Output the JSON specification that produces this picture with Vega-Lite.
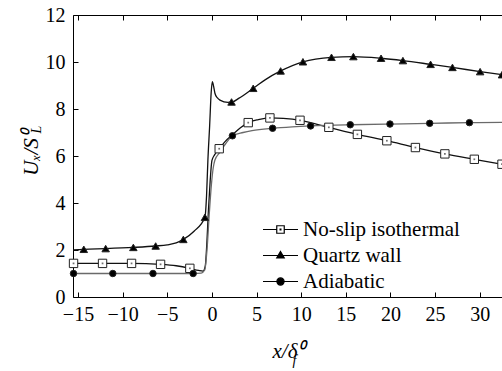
{
  "$schema": "https://vega.github.io/schema/vega-lite/v6.json",
  "width": 429,
  "height": 282,
  "autosize": {"type": "none"},
  "padding": {"left": 73, "top": 15, "right": 0, "bottom": 74},
  "background": "white",
  "config": {
    "view": {"stroke": null},
    "font": "Liberation Serif",
    "axis": {
      "grid": false,
      "domainColor": "black",
      "domainWidth": 1,
      "tickColor": "black",
      "tickWidth": 1,
      "labelColor": "black",
      "labelFont": "Liberation Serif",
      "labelFontSize": 20,
      "titleColor": "black",
      "titleFont": "Liberation Serif",
      "titleFontWeight": "normal",
      "titleFontStyle": "italic",
      "labelFlush": false,
      "labelOverlap": false
    },
    "legend": {
      "labelFont": "Liberation Serif",
      "labelLimit": 0
    }
  },
  "datasets": {
    "curves": [
      {"series": "No-slip isothermal", "x": -15.56, "y": 1.43},
      {"series": "No-slip isothermal", "x": -12.25, "y": 1.43},
      {"series": "No-slip isothermal", "x": -9.0, "y": 1.43},
      {"series": "No-slip isothermal", "x": -5.75, "y": 1.39},
      {"series": "No-slip isothermal", "x": -4.0, "y": 1.33},
      {"series": "No-slip isothermal", "x": -2.47, "y": 1.22},
      {"series": "No-slip isothermal", "x": -1.5, "y": 1.13},
      {"series": "No-slip isothermal", "x": -1.0, "y": 1.1},
      {"series": "No-slip isothermal", "x": -0.75, "y": 1.3},
      {"series": "No-slip isothermal", "x": -0.55, "y": 2.4},
      {"series": "No-slip isothermal", "x": -0.4, "y": 3.6},
      {"series": "No-slip isothermal", "x": -0.2, "y": 4.9},
      {"series": "No-slip isothermal", "x": 0.0, "y": 5.8},
      {"series": "No-slip isothermal", "x": 0.3, "y": 6.05},
      {"series": "No-slip isothermal", "x": 0.82, "y": 6.31},
      {"series": "No-slip isothermal", "x": 1.5, "y": 6.62},
      {"series": "No-slip isothermal", "x": 2.3, "y": 6.9},
      {"series": "No-slip isothermal", "x": 3.2, "y": 7.2},
      {"series": "No-slip isothermal", "x": 4.07, "y": 7.42},
      {"series": "No-slip isothermal", "x": 5.2, "y": 7.55},
      {"series": "No-slip isothermal", "x": 6.5, "y": 7.62},
      {"series": "No-slip isothermal", "x": 8.0, "y": 7.6},
      {"series": "No-slip isothermal", "x": 9.87, "y": 7.52},
      {"series": "No-slip isothermal", "x": 11.5, "y": 7.38},
      {"series": "No-slip isothermal", "x": 13.1, "y": 7.22},
      {"series": "No-slip isothermal", "x": 16.3, "y": 6.92},
      {"series": "No-slip isothermal", "x": 19.6, "y": 6.65},
      {"series": "No-slip isothermal", "x": 22.8, "y": 6.36},
      {"series": "No-slip isothermal", "x": 26.1, "y": 6.09},
      {"series": "No-slip isothermal", "x": 29.4, "y": 5.86},
      {"series": "No-slip isothermal", "x": 32.5, "y": 5.65},

      {"series": "Quartz wall", "x": -15.56, "y": 2.0},
      {"series": "Quartz wall", "x": -14.35, "y": 2.03},
      {"series": "Quartz wall", "x": -11.9, "y": 2.06},
      {"series": "Quartz wall", "x": -8.8, "y": 2.11},
      {"series": "Quartz wall", "x": -6.3, "y": 2.17},
      {"series": "Quartz wall", "x": -5.0, "y": 2.22},
      {"series": "Quartz wall", "x": -4.0, "y": 2.3},
      {"series": "Quartz wall", "x": -3.2, "y": 2.45},
      {"series": "Quartz wall", "x": -2.0, "y": 2.8},
      {"series": "Quartz wall", "x": -0.78, "y": 3.39},
      {"series": "Quartz wall", "x": -0.6, "y": 4.3},
      {"series": "Quartz wall", "x": -0.45, "y": 5.8},
      {"series": "Quartz wall", "x": -0.25, "y": 7.3},
      {"series": "Quartz wall", "x": -0.08, "y": 8.7},
      {"series": "Quartz wall", "x": 0.05, "y": 9.16},
      {"series": "Quartz wall", "x": 0.2, "y": 8.95},
      {"series": "Quartz wall", "x": 0.34, "y": 8.67},
      {"series": "Quartz wall", "x": 0.6, "y": 8.48},
      {"series": "Quartz wall", "x": 0.9, "y": 8.38},
      {"series": "Quartz wall", "x": 1.8, "y": 8.28},
      {"series": "Quartz wall", "x": 2.3, "y": 8.3},
      {"series": "Quartz wall", "x": 3.0, "y": 8.45},
      {"series": "Quartz wall", "x": 4.63, "y": 8.88},
      {"series": "Quartz wall", "x": 6.0, "y": 9.25},
      {"series": "Quartz wall", "x": 7.7, "y": 9.62},
      {"series": "Quartz wall", "x": 10.2, "y": 10.01},
      {"series": "Quartz wall", "x": 13.4, "y": 10.2},
      {"series": "Quartz wall", "x": 15.85, "y": 10.23},
      {"series": "Quartz wall", "x": 18.95, "y": 10.16},
      {"series": "Quartz wall", "x": 21.4, "y": 10.06},
      {"series": "Quartz wall", "x": 24.5, "y": 9.9},
      {"series": "Quartz wall", "x": 26.95, "y": 9.77},
      {"series": "Quartz wall", "x": 30.05, "y": 9.59},
      {"series": "Quartz wall", "x": 32.5, "y": 9.46},

      {"series": "Adiabatic", "x": -15.56, "y": 1.0},
      {"series": "Adiabatic", "x": -11.1, "y": 1.0},
      {"series": "Adiabatic", "x": -6.6, "y": 1.0},
      {"series": "Adiabatic", "x": -2.1, "y": 1.0},
      {"series": "Adiabatic", "x": -1.2, "y": 1.02},
      {"series": "Adiabatic", "x": -0.8, "y": 1.15},
      {"series": "Adiabatic", "x": -0.55, "y": 2.0},
      {"series": "Adiabatic", "x": -0.3, "y": 3.5},
      {"series": "Adiabatic", "x": -0.05, "y": 4.8},
      {"series": "Adiabatic", "x": 0.15, "y": 5.5},
      {"series": "Adiabatic", "x": 0.34, "y": 5.83},
      {"series": "Adiabatic", "x": 0.82, "y": 6.12},
      {"series": "Adiabatic", "x": 1.5, "y": 6.5},
      {"series": "Adiabatic", "x": 2.3, "y": 6.86},
      {"series": "Adiabatic", "x": 3.5, "y": 7.0},
      {"series": "Adiabatic", "x": 4.5, "y": 7.08},
      {"series": "Adiabatic", "x": 6.8, "y": 7.18},
      {"series": "Adiabatic", "x": 9.0, "y": 7.24},
      {"series": "Adiabatic", "x": 11.06, "y": 7.28},
      {"series": "Adiabatic", "x": 15.5, "y": 7.33},
      {"series": "Adiabatic", "x": 19.95, "y": 7.36},
      {"series": "Adiabatic", "x": 24.4, "y": 7.39},
      {"series": "Adiabatic", "x": 28.85, "y": 7.42},
      {"series": "Adiabatic", "x": 32.5, "y": 7.43}
    ],
    "markers": [
      {"series": "No-slip isothermal", "x": -15.5, "y": 1.43},
      {"series": "No-slip isothermal", "x": -12.25, "y": 1.43},
      {"series": "No-slip isothermal", "x": -9.0, "y": 1.43},
      {"series": "No-slip isothermal", "x": -5.75, "y": 1.39},
      {"series": "No-slip isothermal", "x": -2.47, "y": 1.22},
      {"series": "No-slip isothermal", "x": 0.82, "y": 6.31},
      {"series": "No-slip isothermal", "x": 4.07, "y": 7.42},
      {"series": "No-slip isothermal", "x": 6.5, "y": 7.62},
      {"series": "No-slip isothermal", "x": 9.87, "y": 7.52},
      {"series": "No-slip isothermal", "x": 13.1, "y": 7.22},
      {"series": "No-slip isothermal", "x": 16.3, "y": 6.92},
      {"series": "No-slip isothermal", "x": 19.6, "y": 6.65},
      {"series": "No-slip isothermal", "x": 22.8, "y": 6.36},
      {"series": "No-slip isothermal", "x": 26.1, "y": 6.09},
      {"series": "No-slip isothermal", "x": 29.4, "y": 5.86},
      {"series": "No-slip isothermal", "x": 32.5, "y": 5.65},

      {"series": "Quartz wall", "x": -14.35, "y": 2.03},
      {"series": "Quartz wall", "x": -11.9, "y": 2.06},
      {"series": "Quartz wall", "x": -8.8, "y": 2.11},
      {"series": "Quartz wall", "x": -6.3, "y": 2.17},
      {"series": "Quartz wall", "x": -3.2, "y": 2.45},
      {"series": "Quartz wall", "x": -0.78, "y": 3.39},
      {"series": "Quartz wall", "x": 2.2, "y": 8.3},
      {"series": "Quartz wall", "x": 4.63, "y": 8.88},
      {"series": "Quartz wall", "x": 7.7, "y": 9.62},
      {"series": "Quartz wall", "x": 10.2, "y": 10.01},
      {"series": "Quartz wall", "x": 13.4, "y": 10.2},
      {"series": "Quartz wall", "x": 15.85, "y": 10.23},
      {"series": "Quartz wall", "x": 18.95, "y": 10.16},
      {"series": "Quartz wall", "x": 21.4, "y": 10.06},
      {"series": "Quartz wall", "x": 24.5, "y": 9.9},
      {"series": "Quartz wall", "x": 26.95, "y": 9.77},
      {"series": "Quartz wall", "x": 30.05, "y": 9.59},
      {"series": "Quartz wall", "x": 32.5, "y": 9.46},

      {"series": "Adiabatic", "x": -15.5, "y": 1.0},
      {"series": "Adiabatic", "x": -11.1, "y": 1.0},
      {"series": "Adiabatic", "x": -6.6, "y": 1.0},
      {"series": "Adiabatic", "x": -2.1, "y": 1.0},
      {"series": "Adiabatic", "x": 2.3, "y": 6.86},
      {"series": "Adiabatic", "x": 6.8, "y": 7.18},
      {"series": "Adiabatic", "x": 11.06, "y": 7.28},
      {"series": "Adiabatic", "x": 15.5, "y": 7.33},
      {"series": "Adiabatic", "x": 19.95, "y": 7.36},
      {"series": "Adiabatic", "x": 24.4, "y": 7.39},
      {"series": "Adiabatic", "x": 28.85, "y": 7.42}
    ]
  },
  "layer": [
    {
      "data": {"name": "curves"},
      "mark": {"type": "line", "interpolate": "monotone"},
      "encoding": {
        "x": {
          "field": "x", "type": "quantitative",
          "scale": {"domain": [-15.56, 32.5], "nice": false, "zero": false},
          "axis": {
            "orient": "top",
            "values": [-15, -10, -5, 0, 5, 10, 15, 20, 25, 30],
            "tickSize": -5,
            "labels": false,
            "title": "f",
            "titleFontSize": 14,
            "titleX": 221,
            "titleY": 349,
            "titleAlign": "center",
            "titleBaseline": "alphabetic"
          }
        },
        "y": {
          "field": "y", "type": "quantitative",
          "scale": {"domain": [0, 12], "nice": false, "zero": false},
          "axis": {
            "orient": "right",
            "domain": false,
            "ticks": false,
            "labels": false,
            "title": "L",
            "titleFontSize": 14,
            "titleAngle": 270,
            "titleX": -462,
            "titleY": 114,
            "titleAlign": "center",
            "titleBaseline": "alphabetic"
          }
        },
        "detail": {"field": "series", "type": "nominal"},
        "stroke": {
          "field": "series", "type": "nominal",
          "scale": {"domain": ["No-slip isothermal", "Quartz wall", "Adiabatic"], "range": ["#111111", "#111111", "#6a6a6a"]},
          "legend": null
        },
        "strokeWidth": {
          "field": "series", "type": "ordinal",
          "scale": {"domain": ["No-slip isothermal", "Quartz wall", "Adiabatic"], "range": [1.3, 1.3, 1.9]},
          "legend": null
        }
      }
    },
    {
      "layer": [
        {
          "data": {"name": "markers"},
          "mark": {"type": "point", "filled": true, "stroke": "#222222", "strokeWidth": 1, "opacity": 1},
          "encoding": {
            "x": {
              "field": "x", "type": "quantitative",
              "scale": {"domain": [-15.56, 32.5], "nice": false, "zero": false},
              "axis": {
                "orient": "bottom",
                "values": [-15, -10, -5, 0, 5, 10, 15, 20, 25, 30],
                "tickSize": -5,
                "labelPadding": 12,
                "title": "x/δ⁰",
                "titleFontSize": 21,
                "titleX": 215,
                "titleY": 60,
                "titleAlign": "center",
                "titleBaseline": "alphabetic"
              }
            },
            "y": {
              "field": "y", "type": "quantitative",
              "scale": {"domain": [0, 12], "nice": false, "zero": false},
              "axis": {
                "orient": "left",
                "values": [0, 2, 4, 6, 8, 10, 12],
                "tickSize": -5,
                "labelPadding": 13,
                "title": "Uₓ/S⁰",
                "titleFontSize": 21,
                "titleAngle": 270,
                "titleX": -36,
                "titleY": 138,
                "titleAlign": "center",
                "titleBaseline": "alphabetic"
              }
            },
            "shape": {
              "field": "series", "type": "nominal",
              "scale": {"domain": ["No-slip isothermal", "Quartz wall", "Adiabatic"], "range": ["square", "triangle-up", "circle"]},
              "legend": null
            },
            "fill": {
              "field": "series", "type": "nominal",
              "scale": {"domain": ["No-slip isothermal", "Quartz wall", "Adiabatic"], "range": ["white", "black", "black"]},
              "legend": null
            },
            "size": {
              "field": "series", "type": "ordinal",
              "scale": {"domain": ["No-slip isothermal", "Quartz wall", "Adiabatic"], "range": [70, 42, 58]},
              "legend": null
            }
          }
        },
        {
          "data": {"name": "markers"},
          "transform": [{"filter": "datum.series === 'No-slip isothermal'"}],
          "mark": {"type": "point", "filled": true, "shape": "square", "size": 3, "color": "#333333"},
          "encoding": {
            "x": {"field": "x", "type": "quantitative"},
            "y": {"field": "y", "type": "quantitative"}
          }
        },
        {
          "data": {"name": "markers"},
          "mark": {"type": "point", "filled": true, "stroke": "black", "strokeWidth": 1.2, "opacity": 0},
          "encoding": {
            "x": {"field": "x", "type": "quantitative"},
            "y": {"field": "y", "type": "quantitative"},
            "shape": {
              "field": "series", "type": "nominal",
              "scale": {
                "domain": ["No-slip isothermal", "Quartz wall", "Adiabatic"],
                "range": [
                  "M-3.5,0H-0.75M0.75,0H3.5M-0.75,-0.75H0.75V0.75H-0.75ZM-0.08,-0.08H0.08V0.08H-0.08Z",
                  "M-3.5,0H3.5M0,-0.8L0.75,0.5H-0.75Z",
                  "M-3.5,0H3.5M-0.72,0A0.72,0.72,0,1,0,0.72,0A0.72,0.72,0,1,0,-0.72,0Z"
                ]
              },
              "legend": {
                "orient": "none", "legendX": 197, "legendY": 204, "title": null,
                "labelFontSize": 21, "labelColor": "black", "labelLimit": 0,
                "symbolSize": 100, "symbolStrokeWidth": 1.2, "symbolStrokeColor": "black",
                "symbolOpacity": 1, "labelOffset": 12, "rowPadding": 4, "padding": 0,
                "encode": {
                  "symbols": {
                    "update": {
                      "stroke": {"value": "black"},
                      "strokeWidth": {"value": 1.2},
                      "opacity": {"value": 1}
                    }
                  }
                }
              }
            },
            "fill": {
              "field": "series", "type": "nominal",
              "scale": {"domain": ["No-slip isothermal", "Quartz wall", "Adiabatic"], "range": ["white", "black", "black"]},
              "legend": {
                "orient": "none", "legendX": 197, "legendY": 204, "title": null,
                "labelFontSize": 21, "labelColor": "black", "labelLimit": 0,
                "symbolSize": 100, "symbolStrokeWidth": 1.2, "symbolStrokeColor": "black",
                "symbolOpacity": 1, "labelOffset": 12, "rowPadding": 4, "padding": 0,
                "encode": {
                  "symbols": {
                    "update": {
                      "stroke": {"value": "black"},
                      "strokeWidth": {"value": 1.2},
                      "opacity": {"value": 1}
                    }
                  }
                }
              }
            }
          }
        }
      ],
      "resolve": {"scale": {"shape": "independent", "fill": "independent"}}
    }
  ],
  "resolve": {"axis": {"x": "independent", "y": "independent"}}
}
